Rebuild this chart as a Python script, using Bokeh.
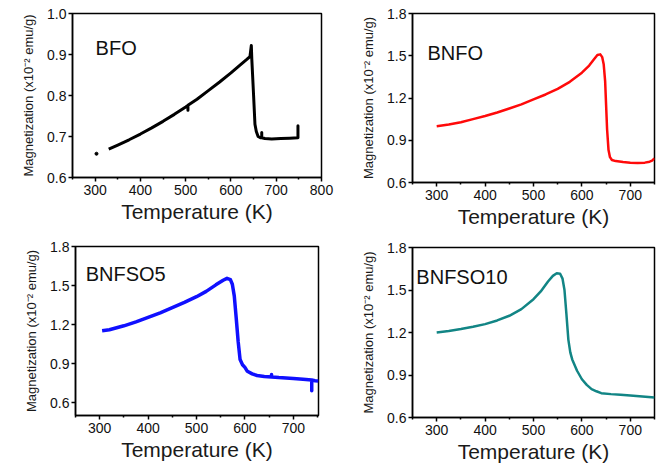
import numpy as np
from bokeh.plotting import figure
from bokeh.layouts import column, row
from bokeh.models import Range1d, FixedTicker, Label, NumeralTickFormatter
from bokeh.embed import file_html
from bokeh.resources import INLINE

# ---------------- data ----------------
bfo_T = [330, 350, 375, 400, 425, 450, 475, 500, 505, 505, 505, 525, 550, 575, 600, 620, 635, 642,
         645, 646, 648, 650, 653, 656, 660, 665, 668, 668, 668, 675, 690, 710, 730, 748, 748, 748, 750]
bfo_M = [0.669, 0.679, 0.692, 0.706, 0.721, 0.737, 0.754, 0.772, 0.776, 0.764, 0.776, 0.791, 0.812,
         0.833, 0.855, 0.874, 0.888, 0.895, 0.922, 0.890, 0.845, 0.800, 0.730, 0.712, 0.700, 0.697,
         0.697, 0.710, 0.697, 0.695, 0.694, 0.695, 0.696, 0.697, 0.726, 0.698, 0.698]
bfo_pt_T = [303]
bfo_pt_M = [0.658]

bnfo_T = [300, 325, 350, 375, 400, 425, 450, 475, 500, 525, 550, 575, 600, 615, 625, 632, 638, 642,
          645, 648, 650, 652, 655, 658, 662, 670, 685, 700, 715, 730, 740, 745, 750]
bnfo_M = [1.000, 1.012, 1.028, 1.050, 1.072, 1.097, 1.125, 1.155, 1.190, 1.225, 1.265, 1.315, 1.380,
          1.430, 1.475, 1.505, 1.510, 1.490, 1.440, 1.320, 1.150, 0.980, 0.830, 0.780, 0.760, 0.752,
          0.745, 0.740, 0.739, 0.741, 0.748, 0.755, 0.772]

bnfso5_T = [305, 320, 350, 375, 400, 425, 450, 475, 500, 520, 540, 555, 563, 570, 574, 578, 582, 586,
            590, 595, 600, 605, 615, 625, 640, 655, 655, 655, 670, 700, 720, 738, 738, 738, 745, 752]
bnfso5_M = [1.152, 1.160, 1.190, 1.220, 1.255, 1.290, 1.330, 1.370, 1.414, 1.455, 1.505, 1.540, 1.555,
            1.545, 1.510, 1.420, 1.250, 1.070, 0.930, 0.890, 0.870, 0.840, 0.820, 0.808, 0.800, 0.797,
            0.815, 0.797, 0.792, 0.785, 0.778, 0.773, 0.690, 0.773, 0.768, 0.766]

bnfso10_T = [300, 325, 350, 375, 400, 425, 450, 475, 500, 515, 530, 540, 548, 555, 560, 564, 568, 572,
             576, 580, 590, 600, 610, 620, 630, 640, 660, 680, 700, 725, 750]
bnfso10_M = [1.200, 1.210, 1.224, 1.240, 1.259, 1.285, 1.318, 1.365, 1.435, 1.490, 1.560, 1.600, 1.618,
             1.615, 1.580, 1.500, 1.330, 1.150, 1.060, 1.010, 0.930, 0.870, 0.830, 0.800, 0.785, 0.772,
             0.765, 0.760, 0.755, 0.748, 0.742]

x_ticks = [300, 400, 500, 600, 700, 800]
x_minor = [250, 350, 450, 550, 650, 750]
y_ticks_bfo = [0.6, 0.7, 0.8, 0.9, 1.0]
y_ticks_other = [0.6, 0.9, 1.2, 1.5, 1.8]

FONT = "Liberation Sans"
YLABEL = "Magnetization (x10\u207b\u00b2 emu/g)"


def make(T, M, color, lw, xend, ylim, yticks, name, nx, ny, width, height, bl, br, bt, bb,
         lab_so=3, title_so=2):
    p = figure(width=width, height=height, x_range=Range1d(250, xend), y_range=Range1d(*ylim),
               output_backend="svg", toolbar_location=None,
               min_border_left=bl, min_border_right=br, min_border_top=bt, min_border_bottom=bb)
    p.line(T, M, line_color=color, line_width=lw, line_join="round")
    p.xgrid.visible = False
    p.ygrid.visible = False
    p.outline_line_color = "black"
    p.outline_line_width = 1.5
    p.outline_line_alpha = 1.0
    p.background_fill_color = "white"
    p.border_fill_color = "white"

    xa = p.xaxis[0]
    xa.ticker = FixedTicker(ticks=x_ticks, minor_ticks=x_minor)
    xa.axis_label = "Temperature (K)"
    ya = p.yaxis[0]
    ya.ticker = FixedTicker(ticks=yticks)
    ya.formatter = NumeralTickFormatter(format="0.0")
    ya.axis_label = YLABEL
    for ax in (xa, ya):
        ax.axis_line_width = 1.5
        ax.axis_line_color = "black"
        ax.major_tick_in = 0
        ax.major_tick_out = 4
        ax.minor_tick_in = 0
        ax.minor_tick_out = 2
        ax.major_tick_line_width = 1.5
        ax.minor_tick_line_width = 1.5
        ax.major_label_text_font = FONT
        ax.major_label_text_font_size = "14px"
        ax.major_label_text_color = "#111111"
        ax.axis_label_text_font = FONT
        ax.axis_label_text_font_style = "normal"
        ax.axis_label_text_color = "#1a1a1a"
    xa.major_label_standoff = lab_so
    xa.axis_label_text_font_size = "21px"
    xa.axis_label_standoff = title_so
    ya.major_label_standoff = 2
    ya.axis_label_text_font_size = "13px"
    ya.axis_label_standoff = 8
    p.add_layout(Label(x=nx, y=ny, text=name, text_font=FONT, text_font_size="20px",
                       text_color="#111111", text_baseline="alphabetic"))
    return p


p1 = make(bfo_T, bfo_M, "black", 3, 800, (0.6, 1.0), y_ticks_bfo, "BFO", 301, 0.917,
          340, 237, 72, 19, 13, 60)
p1.scatter(bfo_pt_T, bfo_pt_M, size=3, color="black")
p2 = make(bnfo_T, bnfo_M, "#ff0a0a", 2.5, 750, (0.6, 1.8), y_ticks_other, "BNFO", 281, 1.516,
          316, 237, 72, 2, 13, 55)
p3 = make(bnfso5_T, bnfso5_M, "#1010ff", 3.5, 752, (0.5, 1.8), y_ticks_other, "BNFSO5", 271, 1.59,
          340, 238, 75, 22, 9, 60)
p4 = make(bnfso10_T, bnfso10_M, "#128585", 2.5, 750, (0.6, 1.8), y_ticks_other, "BNFSO10", 258, 1.595,
          316, 238, 72, 2, 10, 58)

layout = column(row(column(p1), column(p2)), row(column(p3), column(p4)))
open("out.html", "w").write(file_html(layout, INLINE))
